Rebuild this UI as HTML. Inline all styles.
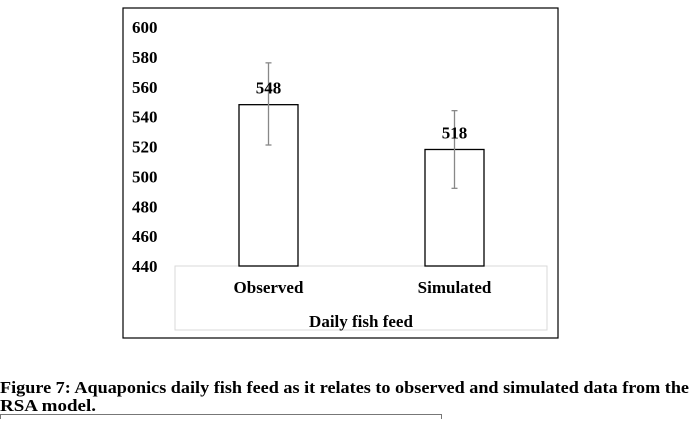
<!DOCTYPE html>
<html><head><meta charset="utf-8"><style>
body{margin:0;background:#fff;width:690px;height:419px;overflow:hidden;font-family:"Liberation Serif",serif;}
svg text{font-family:"Liberation Serif",serif;font-weight:bold;fill:#000;}
</style></head><body>
<svg width="690" height="419">
<rect x="123" y="8" width="435" height="330" fill="none" stroke="#000" stroke-width="1.2"/>
<rect x="175" y="266" width="372" height="64" fill="none" stroke="#d9d9d9" stroke-width="1"/>
<g id="yticks"></g>
<g id="bars"></g>
<text x="361" y="327" font-size="17" text-anchor="middle">Daily fish feed</text>
<text x="0" y="393" font-size="17" textLength="689" lengthAdjust="spacingAndGlyphs">Figure 7: Aquaponics daily fish feed as it relates to observed and simulated data from the</text>
<text x="0" y="411" font-size="17" textLength="96" lengthAdjust="spacingAndGlyphs">RSA model.</text>
<rect x="0.5" y="414.5" width="441" height="10" fill="none" stroke="#777"/>
</svg>
<script>
const categories=["Observed","Simulated"];
const values=[548,518];
const errHigh=[576,544];
const errLow=[521,492];
const yTicks=[440,460,480,500,520,540,560,580,600];
const ns="http://www.w3.org/2000/svg";
const y=v=>266-(v-440)*(239/160);
const xc=i=>268.5+i*186;
function mk(t,a,p){const e=document.createElementNS(ns,t);for(const k in a)e.setAttribute(k,a[k]);p.appendChild(e);return e;}
const yt=document.getElementById('yticks');
yTicks.forEach(v=>{const t=mk('text',{x:132,y:y(v)+6,'font-size':17},yt);t.textContent=v;

});
const bg=document.getElementById('bars');
categories.forEach((c,i)=>{
const r=mk('rect',{x:xc(i)-29.5,y:y(values[i]),width:59,height:266-y(values[i]),fill:'#fff',stroke:'#000','stroke-width':1.3},bg);


const l=mk('line',{x1:xc(i),x2:xc(i),y1:y(errHigh[i]),y2:y(errLow[i]),stroke:'#888','stroke-width':1.3},bg);


[errHigh[i],errLow[i]].forEach(v=>{const c2=mk('line',{x1:xc(i)-3,x2:xc(i)+3,y1:y(v),y2:y(v),stroke:'#888','stroke-width':1.3},bg);

});
const vl=mk('text',{x:xc(i),y:y(values[i])-11,'font-size':17,'text-anchor':'middle'},bg);vl.textContent=values[i];


const cl=mk('text',{x:xc(i),y:293,'font-size':17,'text-anchor':'middle'},bg);cl.textContent=c;


});
</script>
</body></html>
